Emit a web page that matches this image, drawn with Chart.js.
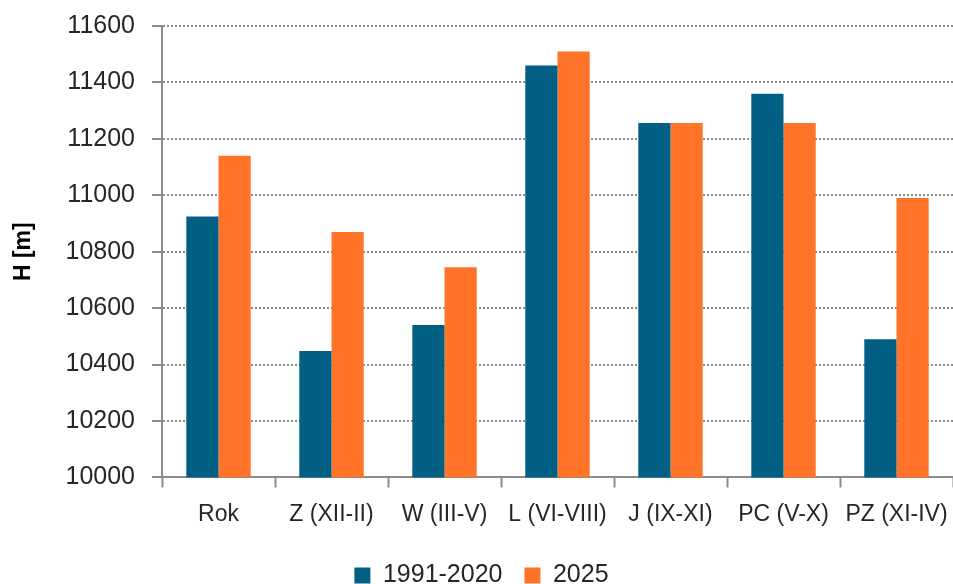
<!DOCTYPE html>
<html>
<head>
<meta charset="utf-8">
<script src="https://cdn.jsdelivr.net/npm/chart.js@4/dist/chart.umd.min.js"></script>
<style>
  html, body { margin: 0; padding: 0; background: #fff; overflow: hidden; }
  #wrap { width: 953px; height: 584px; overflow: hidden; }
</style>
</head>
<body>
<div id="wrap"><canvas id="chart" width="953" height="598"></canvas></div>
<script>
const categories = ['Rok', 'Z (XII-II)', 'W (III-V)', 'L (VI-VIII)', 'J (IX-XI)', 'PC (V-X)', 'PZ (XI-IV)'];
const seriesNames = ['1991-2020', '2025'];
const normalValues = [10925, 10448, 10540, 11460, 11256, 11360, 10490];
const values2025 = [11140, 10870, 10745, 11510, 11256, 11256, 10990];
const yMin = 10000;
const yMax = 11600;
const yStep = 200;

const blue = '#005F82';
const orange = '#FF7429';
const fontFamily = '"Liberation Sans", Arial, sans-serif';

const ctx = document.getElementById('chart').getContext('2d');

// canvas is a bit taller than the window so the legend sits low like in the original
new Chart(ctx, {
    type: 'bar',
    data: {
        labels: categories,
        datasets: [
            { label: seriesNames[0], data: normalValues, backgroundColor: blue },
            { label: seriesNames[1], data: values2025, backgroundColor: orange }
        ]
    },
    options: {
        responsive: false,
        animation: false,
        layout: { padding: { left: 10, right: 0, top: 0, bottom: 0 } },
        datasets: { bar: { categoryPercentage: 0.57, barPercentage: 1.0 } },
        scales: {
            x: {
                afterFit: (scale) => {
                    scale.paddingLeft = 0;
                    scale.paddingRight = 0;
                },
                grid: { drawOnChartArea: false, drawTicks: true, tickLength: 10, tickColor: '#8c8c8c', tickWidth: 2 },
                border: { color: '#8c8c8c', width: 2 },
                ticks: { color: '#262626', padding: 13, font: { family: fontFamily, size: 23 }, maxRotation: 0, autoSkip: false }
            },
            y: {
                min: yMin,
                max: yMax,
                afterFit: (scale) => {
                    scale.width = 152;
                    scale.paddingTop = 26;
                    scale.paddingBottom = 0;
                },
                grid: { color: '#8c8c8c', lineWidth: 2, tickLength: 10, tickColor: '#8c8c8c', tickWidth: 2 },
                border: { color: '#8c8c8c', width: 2, dash: [2, 2] },
                ticks: {
                    stepSize: yStep,
                    color: '#262626',
                    padding: 17,
                    font: { family: fontFamily, size: 25 },
                    callback: (v) => String(v)
                },
                title: {
                    display: true,
                    text: 'H [m]',
                    color: '#000',
                    padding: { top: 0, bottom: 0 },
                    font: { family: fontFamily, size: 23, weight: 'bold' }
                }
            }
        },
        plugins: {
            legend: {
                position: 'bottom',
                labels: {
                    boxWidth: 16,
                    boxHeight: 16,
                    padding: 22,
                    color: '#262626',
                    font: { family: fontFamily, size: 25 }
                }
            },
            tooltip: { enabled: false }
        }
    }
});
</script>
</body>
</html>
